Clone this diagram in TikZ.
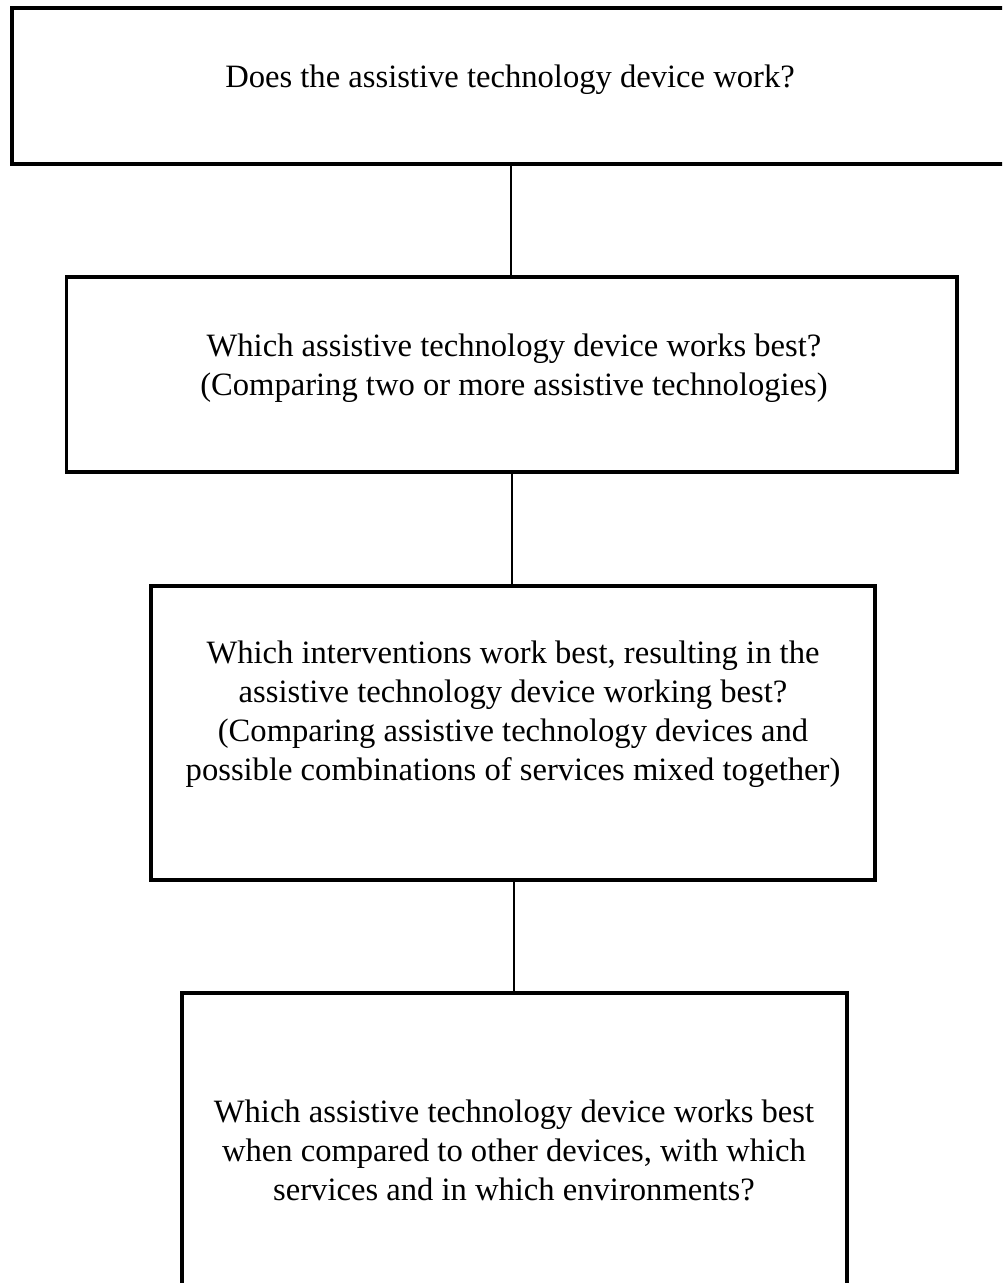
\documentclass[tikz,border=0pt]{standalone}
\usepackage{fontspec}
\setmainfont{Liberation Serif}
\begin{document}
\begin{tikzpicture}[x=0.5pt,y=-0.5pt,
  qbox/.style={draw=black,line width=1.75pt,rectangle,inner sep=0pt},
  qtext/.style={align=center,inner sep=0pt,font=\fontsize{16.3}{19.5}\selectfont},
  link/.style={draw=black,line width=1.1pt}]
  \useasboundingbox (0,0) rectangle (1002,1283);
  \clip (0,0) rectangle (1002,1283);
  \fill[white] (0,0) rectangle (1002,1283);

  % question boxes, widest at the top
  \node[qbox,minimum width=500pt,minimum height=78pt] (b1) at (512,86) {};
  \node[qbox,minimum width=445.25pt,minimum height=97.5pt] (b2) at (511.75,374.5) {};
  \node[qbox,minimum width=362pt,minimum height=147pt] (b3) at (513,733) {};
  \node[qbox,minimum width=332.5pt,minimum height=153.5pt] (b4) at (514.5,1146.5) {};

  % questions
  \node[qtext] (t1) at (510,80) {Does the assistive technology device work?};
  \node[qtext] (t2) at (514,368) {Which assistive technology device works best?\\(Comparing two or more assistive technologies)};
  \node[qtext] (t3) at (513,714) {Which interventions work best, resulting in the\\assistive technology device working best?\\(Comparing assistive technology devices and\\possible combinations of services mixed together)};
  \node[qtext] (t4) at (514,1150) {Which assistive technology device works best\\when compared to other devices, with which\\services and in which environments?};

  % vertical links between successive boxes
  \draw[link] (b1.south -| 511,0) -- (b2.north -| 511,0);
  \draw[link] (b2.south -| 512,0) -- (b3.north -| 512,0);
  \draw[link] (b3.south -| 514,0) -- (b4.north -| 514,0);
\end{tikzpicture}
\end{document}
